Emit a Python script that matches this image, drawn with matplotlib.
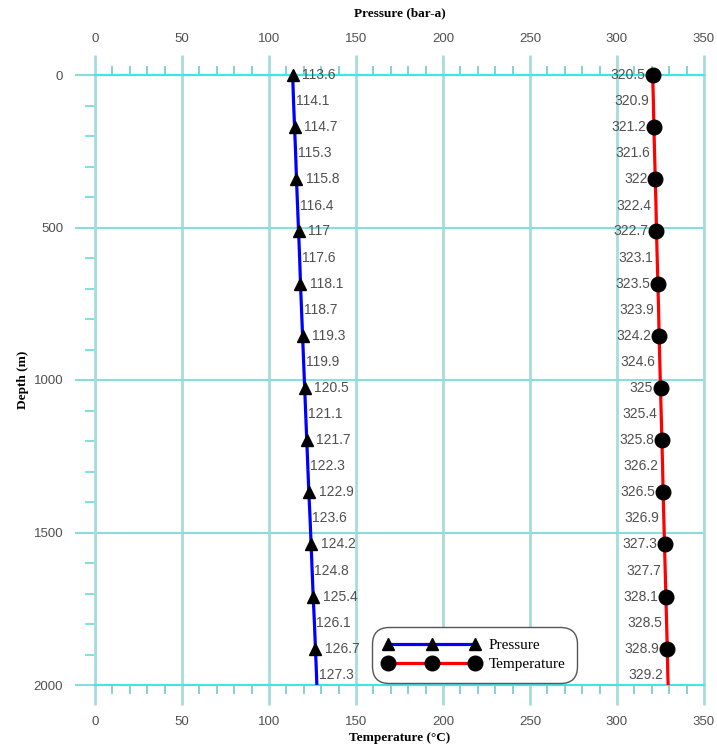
import matplotlib
matplotlib.use("Agg")
import matplotlib.pyplot as plt
import matplotlib.ticker as mticker
from matplotlib.lines import Line2D

# Depth stations (m); the last entry is the bottom of the well, unlabeled
depth = [0, 86, 171, 257, 342, 428, 513, 599, 684, 770, 855, 941,
         1026, 1112, 1197, 1283, 1368, 1454, 1539, 1625, 1710, 1796, 1881, 1967]
pressure = [113.6, 114.1, 114.7, 115.3, 115.8, 116.4, 117, 117.6, 118.1, 118.7,
            119.3, 119.9, 120.5, 121.1, 121.7, 122.3, 122.9, 123.6, 124.2, 124.8,
            125.4, 126.1, 126.7, 127.3]
temperature = [320.5, 320.9, 321.2, 321.6, 322, 322.4, 322.7, 323.1, 323.5, 323.9,
               324.2, 324.6, 325, 325.4, 325.8, 326.2, 326.5, 326.9, 327.3, 327.7,
               328.1, 328.5, 328.9, 329.2]
bottom_depth = 2000
bottom_pressure = 127.5
bottom_temperature = 329.4
x_ticks = [0, 50, 100, 150, 200, 250, 300, 350]

grid_v = "#a8dcdc"
grid_h = "#86dede"
edge_c = "#3ee6e6"
txt_c = "#505050"
serif = "Liberation Serif"
sans = "Liberation Sans"

fig = plt.figure(figsize=(7.17, 7.51), dpi=100)
ax = fig.add_axes([95 / 717, 1 - 685 / 751, 609 / 717, 610 / 751])

ax.set_xlim(0, 350)
ax.set_ylim(2000, 0)

# lines (extend to bottom of well)
ax.plot(pressure + [bottom_pressure], depth + [bottom_depth], color="#0000ff", lw=2.3, zorder=3)
ax.plot(temperature + [bottom_temperature], depth + [bottom_depth], color="#ff0000", lw=2.3, zorder=3)
# markers every second station
ax.plot(pressure[::2], depth[::2], ls="none", marker="^", color="black", ms=9, zorder=4, clip_on=False)
ax.plot(temperature[::2], depth[::2], ls="none", marker="o", color="black", ms=10.5, zorder=4, clip_on=False)

# point labels
for i, (p, d) in enumerate(zip(pressure, depth)):
    off = 7 if i % 2 == 0 else 1.5
    ax.annotate(str(p), (p, d), xytext=(off, 0), textcoords="offset points",
                ha="left", va="center", fontsize=10, family=sans, color=txt_c, zorder=5)
for i, (t, d) in enumerate(zip(temperature, depth)):
    off = -5.5 if i % 2 == 0 else -3
    ax.annotate(f"{t:g}", (t, d), xytext=(off, 0), textcoords="offset points",
                ha="right", va="center", fontsize=10, family=sans, color=txt_c, zorder=5)

# grid and ticks
ax.set_xticks(x_ticks)
ax.xaxis.set_minor_locator(mticker.MultipleLocator(10))
ax.yaxis.set_major_locator(mticker.MultipleLocator(500))
ax.yaxis.set_minor_locator(mticker.MultipleLocator(100))
ax.grid(axis="x", which="major", color=grid_v, lw=2, zorder=0)
ax.grid(axis="y", which="major", color=grid_h, lw=1.5, zorder=0)

for s in ["left", "right"]:
    ax.spines[s].set_color(grid_v)
    ax.spines[s].set_linewidth(2)
for s in ["top", "bottom"]:
    ax.spines[s].set_color(edge_c)
    ax.spines[s].set_linewidth(1.5)

ax.tick_params(axis="x", which="major", direction="out", length=14.4, width=2,
               color=grid_v, pad=8, labelsize=9.5, labelcolor=txt_c)
ax.tick_params(axis="x", which="minor", direction="out", length=6.5, width=1.2,
               color="#70cccc")
ax.tick_params(axis="y", which="major", direction="out", length=14.4, width=1.5,
               color=grid_h, pad=8.5, labelsize=9.5, labelcolor=txt_c)
ax.tick_params(axis="y", which="minor", direction="out", length=7.2, width=1.5,
               color=grid_h)
for lab in ax.get_xticklabels() + ax.get_yticklabels():
    lab.set_family(sans)

ax.set_xlabel("Temperature (\u00b0C)", family=serif, fontweight="bold", fontsize=9.5, labelpad=3)
ax.set_ylabel("Depth (m)", family=serif, fontweight="bold", fontsize=9.5, labelpad=3)

top = ax.secondary_xaxis("top")
top.set_xticks(x_ticks)
top.xaxis.set_minor_locator(mticker.MultipleLocator(10))
top.spines["top"].set_visible(False)
top.tick_params(axis="x", which="major", direction="out", length=14.4, width=2,
                color=grid_v, pad=7, labelsize=9.5, labelcolor=txt_c)
top.tick_params(axis="x", which="minor", direction="out", length=6.5, width=1.2,
                color="#70cccc")
for lab in top.get_xticklabels():
    lab.set_family(sans)
top.set_xlabel("Pressure (bar-a)", family=serif, fontweight="bold", fontsize=9.5, labelpad=12)

# legend
handles = [
    Line2D([], [], color="#0000ff", lw=2.3, marker="^", ms=9, mfc="black", mec="black"),
    Line2D([], [], color="#ff0000", lw=2.3, marker="o", ms=10.5, mfc="black", mec="black"),
]
leg = ax.legend(handles, ["Pressure", "Temperature"], loc="lower left",
                bbox_to_anchor=(0.455, 0.004), borderaxespad=0, numpoints=3,
                handlelength=6.3, handletextpad=0.6, borderpad=0.75,
                labelspacing=0.35, fancybox=True, framealpha=1,
                edgecolor="#555555", prop={"family": serif, "size": 11})
leg.get_frame().set_linewidth(1)
leg.get_frame().set_boxstyle("round", pad=0.0, rounding_size=1.1)
leg.set_zorder(6)

fig.savefig("out.png", dpi=100)
